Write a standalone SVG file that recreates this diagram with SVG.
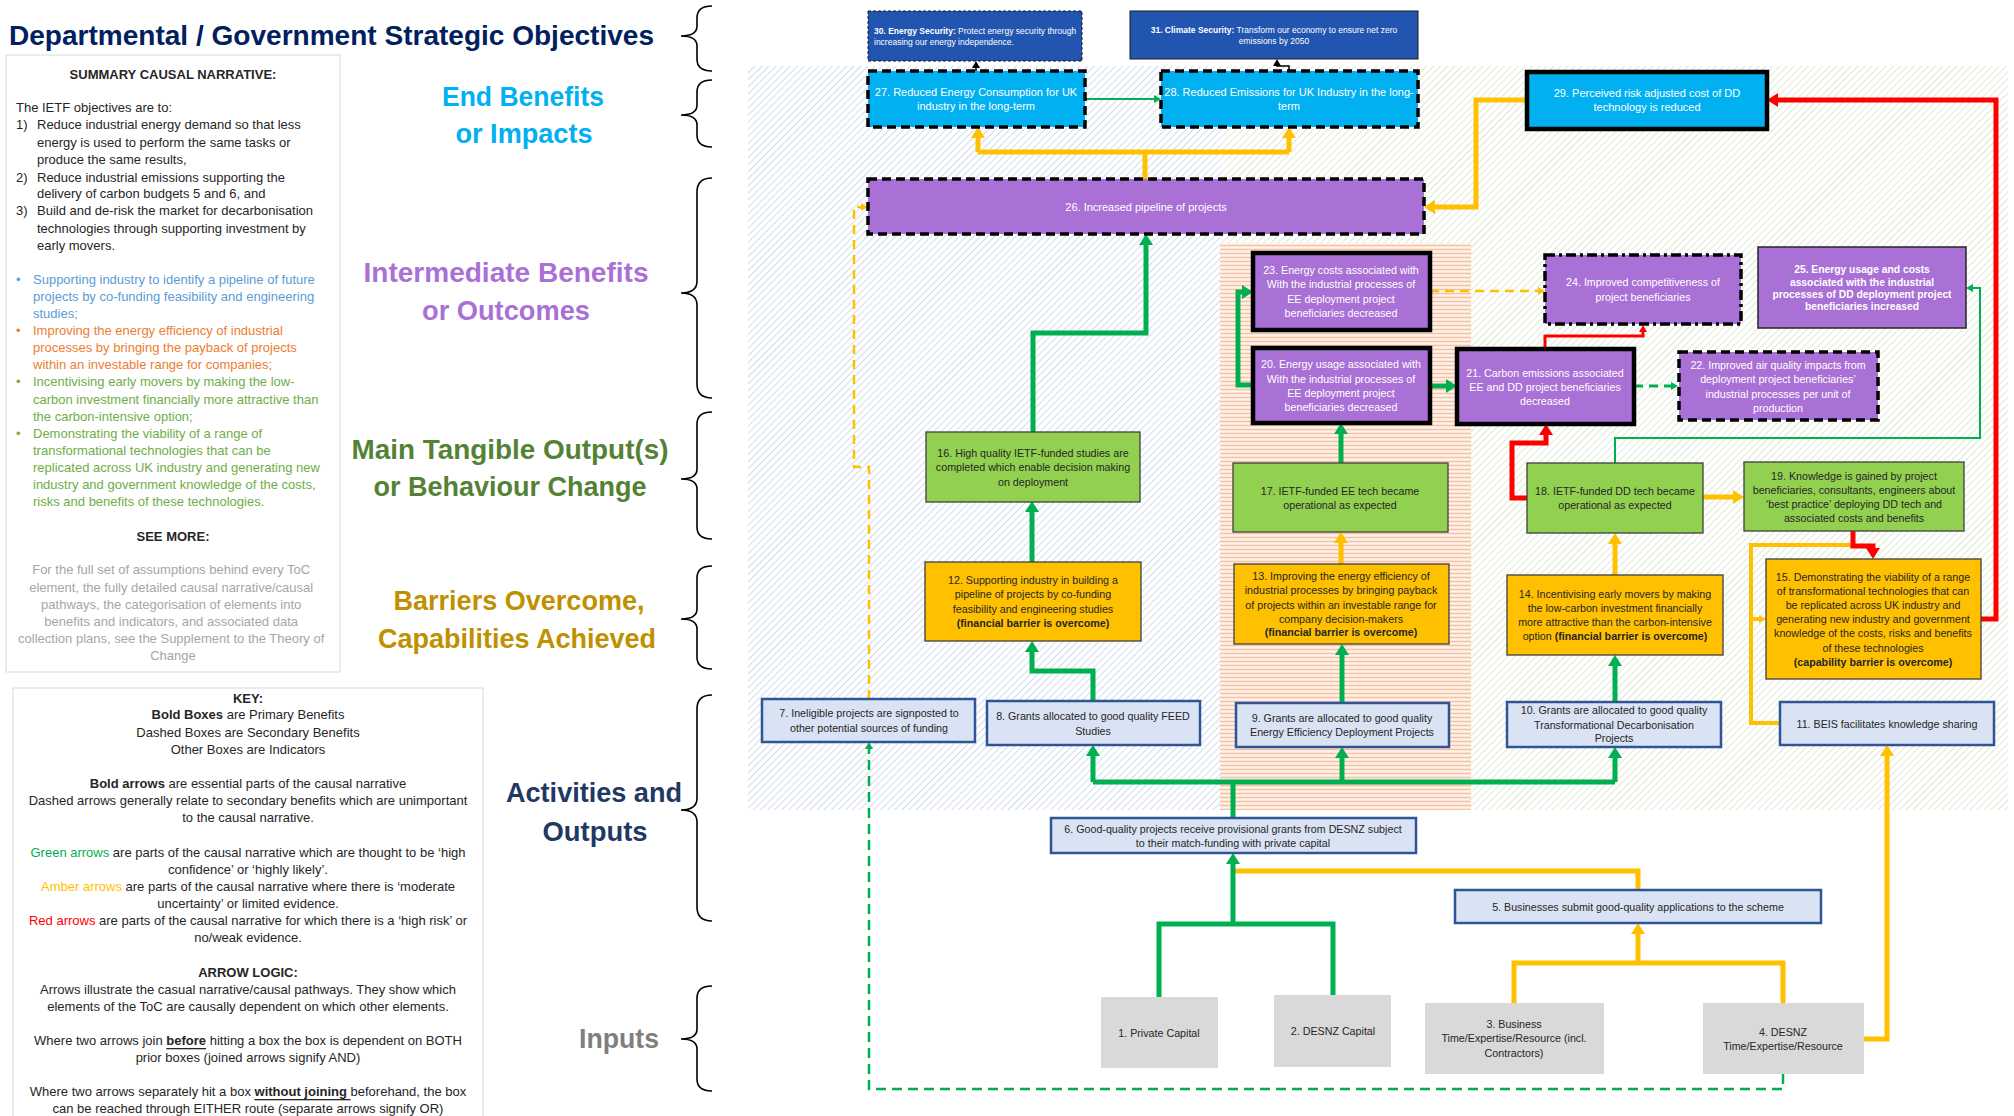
<svg xmlns="http://www.w3.org/2000/svg" width="2014" height="1116" viewBox="0 0 2014 1116">
<style>
text{font-family:"Liberation Sans",Arial,sans-serif;}
.c{text-anchor:middle;dominant-baseline:central;}
.l{dominant-baseline:central;}
.nw{fill:#fff;font-size:10.7px;}
.nd{fill:#262626;font-size:10.7px;}
.b{font-weight:bold;}
.hd{font-weight:bold;font-size:27px;text-anchor:middle;dominant-baseline:central;}
.nar{font-size:13px;fill:#262626;dominant-baseline:central;}
.key{font-size:13px;fill:#262626;text-anchor:middle;dominant-baseline:central;}
.brace{fill:none;stroke:#000;stroke-width:1.6;}
.eb{fill:#00B0F0;}
.pu{fill:#A970D6;}
.gr{fill:#92D050;stroke:#3F3F3F;stroke-width:1.3;}
.am{fill:#FFC000;stroke:#3F3F3F;stroke-width:1.3;}
.lb{fill:#DAE3F3;stroke:#2F5597;stroke-width:2.5;}
.in{fill:#D9D9D9;}
.bold{stroke:#000;stroke-width:4.5;}
.dash{stroke:#000;stroke-width:3.5;stroke-dasharray:9 5;}
.cG{fill:none;stroke:#00B050;stroke-width:5;}
.cA{fill:none;stroke:#FFC000;stroke-width:5;}
.cR{fill:none;stroke:#FF0000;stroke-width:5;}
</style>
<defs>
<pattern id="pb" width="5" height="5" patternUnits="userSpaceOnUse" patternTransform="rotate(45)"><rect width="5" height="5" fill="#fff"/><line x1="0" y1="0" x2="0" y2="5" stroke="#CFDCEE" stroke-width="2"/></pattern>
<pattern id="pg" width="5" height="5" patternUnits="userSpaceOnUse" patternTransform="rotate(45)"><rect width="5" height="5" fill="#fff"/><line x1="0" y1="0" x2="0" y2="5" stroke="#DDE9D3" stroke-width="2"/></pattern>
<pattern id="po" width="4" height="4" patternUnits="userSpaceOnUse"><rect width="4" height="4" fill="#FFF3EC"/><line x1="0" y1="1.5" x2="4" y2="1.5" stroke="#F6C2A4" stroke-width="1.5"/></pattern>
<marker id="mgL" markerUnits="userSpaceOnUse" markerWidth="12" markerHeight="14" refX="1" refY="7" orient="auto"><path d="M0,0 L11,7 L0,14 z" fill="#00B050"/></marker>
<marker id="maL" markerUnits="userSpaceOnUse" markerWidth="12" markerHeight="14" refX="1" refY="7" orient="auto"><path d="M0,0 L11,7 L0,14 z" fill="#FFC000"/></marker>
<marker id="mrL" markerUnits="userSpaceOnUse" markerWidth="12" markerHeight="14" refX="1" refY="7" orient="auto"><path d="M0,0 L11,7 L0,14 z" fill="#FF0000"/></marker>
<marker id="mgS" markerUnits="userSpaceOnUse" markerWidth="8" markerHeight="8" refX="1" refY="4" orient="auto"><path d="M0,0 L7,4 L0,8 z" fill="#00B050"/></marker>
<marker id="maS" markerUnits="userSpaceOnUse" markerWidth="8" markerHeight="8" refX="1" refY="4" orient="auto"><path d="M0,0 L7,4 L0,8 z" fill="#FFC000"/></marker>
<marker id="mrS" markerUnits="userSpaceOnUse" markerWidth="8" markerHeight="8" refX="1" refY="4" orient="auto"><path d="M0,0 L7,4 L0,8 z" fill="#FF0000"/></marker>
<marker id="mkS" markerUnits="userSpaceOnUse" markerWidth="8" markerHeight="8" refX="1" refY="4" orient="auto"><path d="M0,0 L7,4 L0,8 z" fill="#000"/></marker>
</defs>
<rect width="2014" height="1116" fill="#fff"/>

<g id="backgrounds">
<rect x="748" y="66" width="472" height="744" fill="url(#pb)"/>
<rect x="1220" y="66" width="788" height="744" fill="url(#pg)"/>
<rect x="1220" y="243" width="251" height="567" fill="url(#po)"/>
</g>

<g id="title">
<text x="9" y="35" font-size="28" font-weight="bold" fill="#002060" class="l" textLength="645" lengthAdjust="spacingAndGlyphs">Departmental / Government Strategic Objectives</text>
</g>

<g id="narrative">
<rect x="6" y="55" width="334" height="617" fill="#fff" stroke="#D9D9D9" stroke-width="1"/>
<text x="173" y="74" class="key b" font-size="12.5">SUMMARY CAUSAL NARRATIVE:</text>
<text class="nar">
<tspan x="16" y="107">The IETF objectives are to:</tspan>
<tspan x="16" y="124">1)</tspan><tspan x="37" y="124">Reduce industrial energy demand so that less</tspan>
<tspan x="37" y="142">energy is used to perform the same tasks or</tspan>
<tspan x="37" y="159">produce the same results,</tspan>
<tspan x="16" y="177">2)</tspan><tspan x="37" y="177">Reduce industrial emissions supporting the</tspan>
<tspan x="37" y="193">delivery of carbon budgets 5 and 6, and</tspan>
<tspan x="16" y="210">3)</tspan><tspan x="37" y="210">Build and de-risk the market for decarbonisation</tspan>
<tspan x="37" y="228">technologies through supporting investment by</tspan>
<tspan x="37" y="245">early movers.</tspan>
</text>
<text class="nar" style="fill:#5B9BD5">
<tspan x="16" y="279">•</tspan><tspan x="33" y="279">Supporting industry to identify a pipeline of future</tspan>
<tspan x="33" y="296">projects by co-funding feasibility and engineering</tspan>
<tspan x="33" y="313">studies;</tspan>
</text>
<text class="nar" style="fill:#ED7D31">
<tspan x="16" y="330">•</tspan><tspan x="33" y="330">Improving the energy efficiency of industrial</tspan>
<tspan x="33" y="347">processes by bringing the payback of projects</tspan>
<tspan x="33" y="364">within an investable range for companies;</tspan>
</text>
<text class="nar" style="fill:#70AD47">
<tspan x="16" y="381">•</tspan><tspan x="33" y="381">Incentivising early movers by making the low-</tspan>
<tspan x="33" y="399">carbon investment financially more attractive than</tspan>
<tspan x="33" y="416">the carbon-intensive option;</tspan>
<tspan x="16" y="433">•</tspan><tspan x="33" y="433">Demonstrating the viability of a range of</tspan>
<tspan x="33" y="450">transformational technologies that can be</tspan>
<tspan x="33" y="467">replicated across UK industry and generating new</tspan>
<tspan x="33" y="484">industry and government knowledge of the costs,</tspan>
<tspan x="33" y="501">risks and benefits of these technologies.</tspan>
</text>
<text x="173" y="536" class="key b">SEE MORE:</text>
<text class="key" style="fill:#A6A6A6">
<tspan x="173" y="569">For the full set of assumptions behind every ToC</tspan>
<tspan x="173" y="587">element, the fully detailed causal narrative/causal</tspan>
<tspan x="173" y="604">pathways, the categorisation of elements into</tspan>
<tspan x="173" y="621">benefits and indicators, and associated data</tspan>
<tspan x="173" y="638">collection plans, see the Supplement to the Theory of</tspan>
<tspan x="173" y="655">Change</tspan>
</text>
</g>

<g id="key">
<rect x="13" y="688" width="470" height="440" fill="#fff" stroke="#D9D9D9" stroke-width="1"/>
<text x="248" y="698" class="key b">KEY:</text>
<text x="248" y="714" class="key"><tspan class="b">Bold Boxes</tspan> are Primary Benefits</text>
<text x="248" y="732" class="key">Dashed Boxes are Secondary Benefits</text>
<text x="248" y="749" class="key">Other Boxes are Indicators</text>
<text x="248" y="783" class="key"><tspan class="b">Bold arrows</tspan> are essential parts of the causal narrative</text>
<text x="248" y="800" class="key">Dashed arrows generally relate to secondary benefits which are unimportant</text>
<text x="248" y="817" class="key">to the causal narrative.</text>
<text x="248" y="852" class="key"><tspan style="fill:#00B050">Green arrows</tspan> are parts of the causal narrative which are thought to be ‘high</text>
<text x="248" y="869" class="key">confidence’ or ‘highly likely’.</text>
<text x="248" y="886" class="key"><tspan style="fill:#FFC000">Amber arrows</tspan> are parts of the causal narrative where there is ‘moderate</text>
<text x="248" y="903" class="key">uncertainty’ or limited evidence.</text>
<text x="248" y="920" class="key"><tspan style="fill:#FF0000">Red arrows</tspan> are parts of the causal narrative for which there is a ‘high risk’ or</text>
<text x="248" y="937" class="key">no/weak evidence.</text>
<text x="248" y="972" class="key b">ARROW LOGIC:</text>
<text x="248" y="989" class="key">Arrows illustrate the casual narrative/causal pathways. They show which</text>
<text x="248" y="1006" class="key">elements of the ToC are causally dependent on which other elements.</text>
<text x="248" y="1040" class="key">Where two arrows join <tspan class="b" style="text-decoration:underline">before</tspan> hitting a box the box is dependent on BOTH</text>
<text x="248" y="1057" class="key">prior boxes (joined arrows signify AND)</text>
<text x="248" y="1091" class="key">Where two arrows separately hit a box <tspan class="b" style="text-decoration:underline">without joining </tspan>beforehand, the box</text>
<text x="248" y="1108" class="key">can be reached through EITHER route (separate arrows signify OR)</text>
</g>

<g id="level-labels">
<text x="523" y="97" class="hd" fill="#00B0F0" textLength="162" lengthAdjust="spacingAndGlyphs">End Benefits</text>
<text x="524" y="134" class="hd" fill="#00B0F0" textLength="137" lengthAdjust="spacingAndGlyphs">or Impacts</text>
<text x="506" y="273" class="hd" fill="#A970D6" textLength="285" lengthAdjust="spacingAndGlyphs">Intermediate Benefits</text>
<text x="506" y="311" class="hd" fill="#A970D6" textLength="168" lengthAdjust="spacingAndGlyphs">or Outcomes</text>
<text x="510" y="450" class="hd" fill="#548235" textLength="317" lengthAdjust="spacingAndGlyphs">Main Tangible Output(s)</text>
<text x="510" y="487" class="hd" fill="#548235" textLength="273" lengthAdjust="spacingAndGlyphs">or Behaviour Change</text>
<text x="519" y="601" class="hd" fill="#BF9000" textLength="251" lengthAdjust="spacingAndGlyphs">Barriers Overcome,</text>
<text x="517" y="639" class="hd" fill="#BF9000" textLength="278" lengthAdjust="spacingAndGlyphs">Capabilities Achieved</text>
<text x="594" y="793" class="hd" fill="#1F3864" textLength="176" lengthAdjust="spacingAndGlyphs">Activities and</text>
<text x="595" y="832" class="hd" fill="#1F3864" textLength="105" lengthAdjust="spacingAndGlyphs">Outputs</text>
<text x="619" y="1039" class="hd" fill="#7F7F7F" textLength="80" lengthAdjust="spacingAndGlyphs">Inputs</text>
</g>

<g id="braces">
<path class="brace" d="M712,6 Q697,6 697,18 L697,26 Q697,36 681,36 Q697,36 697,46 L697,59 Q697,71 712,71"/>
<path class="brace" d="M712,80 Q697,80 697,92 L697,105 Q697,115 681,115 Q697,115 697,125 L697,135 Q697,147 712,147"/>
<path class="brace" d="M712,178 Q697,178 697,192 L697,281 Q697,293 681,293 Q697,293 697,305 L697,384 Q697,398 712,398"/>
<path class="brace" d="M712,412 Q697,412 697,424 L697,469 Q697,479 681,479 Q697,479 697,489 L697,527 Q697,539 712,539"/>
<path class="brace" d="M712,566 Q697,566 697,578 L697,609 Q697,619 681,619 Q697,619 697,629 L697,657 Q697,669 712,669"/>
<path class="brace" d="M712,695 Q697,695 697,709 L697,798 Q697,810 681,810 Q697,810 697,822 L697,907 Q697,921 712,921"/>
<path class="brace" d="M712,986 Q697,986 697,998 L697,1029 Q697,1039 681,1039 Q697,1039 697,1049 L697,1079 Q697,1091 712,1091"/>
</g>

<g id="connectors">
<path d="M1085,99 H1155" fill="none" stroke="#00B050" stroke-width="2" marker-end="url(#mgS)"/>
<path d="M976,71 V67" fill="none" stroke="#000" stroke-width="1.5" marker-end="url(#mkS)"/>
<path d="M1289,71 V66 H1277 V65" fill="none" stroke="#000" stroke-width="1.5" marker-end="url(#mkS)"/>
<path class="cA" d="M1145,179 V152 M978,152 H1289"/>
<path class="cA" d="M978,152 V137" marker-end="url(#maL)"/>
<path class="cA" d="M1289,152 V137" marker-end="url(#maL)"/>
<path class="cA" d="M1527,100 H1476 V207 H1434" marker-end="url(#maL)"/>
<path class="cR" d="M1981,619 H1996 V100 H1777" marker-end="url(#mrL)"/>
<path d="M869,699 V467 H854 V207 H862" fill="none" stroke="#FFC000" stroke-width="2.5" stroke-dasharray="9 6" marker-end="url(#maS)"/>
<path class="cG" d="M1033,432 V333 H1146 V244" marker-end="url(#mgL)"/>
<path class="cG" d="M1032,562 V511" marker-end="url(#mgL)"/>
<path class="cG" d="M1093,701 V671 H1032 V651" marker-end="url(#mgL)"/>
<path class="cA" d="M1638,890 V871 H1233"/>
<path class="cG" d="M1233,818 V782 M1093,782 H1615"/>
<path class="cG" d="M1093,782 V755" marker-end="url(#mgL)"/>
<path class="cG" d="M1342,782 V757" marker-end="url(#mgL)"/>
<path class="cG" d="M1615,782 V757" marker-end="url(#mgL)"/>
<path class="cG" d="M1342,703 V654" marker-end="url(#mgL)"/>
<path class="cA" d="M1341,564 V542" marker-end="url(#maL)"/>
<path class="cG" d="M1341,463 V433" marker-end="url(#mgL)"/>
<path class="cG" d="M1253,385 H1238 V292 H1243" marker-end="url(#mgL)"/>
<path class="cG" d="M1430,386 H1447" marker-end="url(#mgL)"/>
<path d="M1430,291 H1539" fill="none" stroke="#FFC000" stroke-width="2.5" stroke-dasharray="9 6" marker-end="url(#maS)"/>
<path d="M1634,386 H1672" fill="none" stroke="#00B050" stroke-width="3" stroke-dasharray="9 6" marker-end="url(#mgS)"/>
<path d="M1545,349 V336 H1643 V331" fill="none" stroke="#FF0000" stroke-width="3" marker-end="url(#mrS)"/>
<path class="cR" d="M1527,498 H1512 V443 H1546 V434" marker-end="url(#mrL)"/>
<path d="M1615,463 V438 H1980 V288 H1972" fill="none" stroke="#00B050" stroke-width="2" marker-end="url(#mgS)"/>
<path class="cA" d="M1703,497 H1734" marker-end="url(#maL)"/>
<path class="cA" d="M1615,575 V543" marker-end="url(#maL)"/>
<path class="cG" d="M1615,702 V665" marker-end="url(#mgL)"/>
<path class="cA" d="M1780,723 H1751 V545 H1853" style="stroke-width:4"/>
<path d="M1751,619 H1760" fill="none" stroke="#FFC000" stroke-width="4" marker-end="url(#maS)"/>
<path class="cR" d="M1853,531 V546 H1873 V549" marker-end="url(#mrL)"/>
<path class="cA" d="M1864,1039 H1887 V755" marker-end="url(#maL)"/>
<path class="cA" d="M1514,1003 V963 H1783 V1003"/>
<path class="cA" d="M1638,963 V933" marker-end="url(#maL)"/>
<path class="cG" d="M1159,997 V924 H1333 V995"/>
<path class="cG" d="M1233,924 V863" marker-end="url(#mgL)"/>
<path d="M1783,1074 V1089 H869 V748" fill="none" stroke="#00B050" stroke-width="2.5" stroke-dasharray="10 6" marker-end="url(#mgS)"/>
</g>

<g id="n30"><rect x="868" y="11" width="214" height="50" fill="#2155B0" stroke="#1a1a1a" stroke-width="1" stroke-dasharray="3 2"/>
<text class="l" fill="#fff" font-size="8.5"><tspan x="874" y="31"><tspan class="b">30. Energy Security:</tspan> Protect energy security through</tspan><tspan x="874" y="42">increasing our energy independence.</tspan></text></g>
<g id="n31"><rect x="1130" y="11" width="288" height="48" fill="#2155B0" stroke="#1a1a1a" stroke-width="1"/>
<text class="c" fill="#fff" font-size="8.5"><tspan x="1274" y="30"><tspan class="b">31. Climate Security:</tspan> Transform our economy to ensure net zero</tspan><tspan x="1274" y="41">emissions by 2050</tspan></text></g>
<g id="n27"><rect x="868" y="71" width="217" height="56" class="eb dash"/>
<text class="c nw" style="font-size:11px"><tspan x="976" y="92">27. Reduced Energy Consumption for UK</tspan><tspan x="976" y="106">industry  in the long-term</tspan></text></g>
<g id="n28"><rect x="1161" y="71" width="257" height="56" class="eb dash"/>
<text class="c nw" style="font-size:11px"><tspan x="1289" y="92">28. Reduced Emissions for UK Industry in the long-</tspan><tspan x="1289" y="106">term</tspan></text></g>
<g id="n29"><rect x="1527" y="72" width="240" height="57" class="eb bold"/>
<text class="c nw" style="font-size:11px"><tspan x="1647" y="93">29. Perceived risk adjusted cost of DD</tspan><tspan x="1647" y="107">technology is reduced</tspan></text></g>
<g id="n26"><rect x="868" y="179" width="556" height="55" class="pu dash"/>
<text class="c nw" style="font-size:11px" x="1146" y="207">26. Increased pipeline of projects</text></g>
<g id="n23"><rect x="1253" y="253" width="177" height="77" class="pu bold"/>
<text class="c nw"><tspan x="1341" y="270">23. Energy costs associated with</tspan><tspan x="1341" y="284">With the industrial processes of</tspan><tspan x="1341" y="299">EE deployment project</tspan><tspan x="1341" y="313">beneficiaries decreased</tspan></text></g>
<g id="n24"><rect x="1545" y="255" width="196" height="69" class="pu" stroke="#000" stroke-width="3.5" stroke-dasharray="10 4 3 4"/>
<text class="c nw"><tspan x="1643" y="282">24. Improved competitiveness of</tspan><tspan x="1643" y="297">project beneficiaries</tspan></text></g>
<g id="n25"><rect x="1758" y="247" width="208" height="81" class="pu" stroke="#262626" stroke-width="1.5"/>
<text class="c nw b" style="font-size:10.3px"><tspan x="1862" y="269">25. Energy usage and costs</tspan><tspan x="1862" y="282">associated with the industrial</tspan><tspan x="1862" y="294">processes of DD deployment project</tspan><tspan x="1862" y="306">beneficiaries increased</tspan></text></g>
<g id="n20"><rect x="1253" y="348" width="177" height="75" class="pu bold"/>
<text class="c nw"><tspan x="1341" y="364">20. Energy usage associated with</tspan><tspan x="1341" y="379">With the industrial processes of</tspan><tspan x="1341" y="393">EE deployment project</tspan><tspan x="1341" y="407">beneficiaries decreased</tspan></text></g>
<g id="n21"><rect x="1457" y="349" width="177" height="75" class="pu bold"/>
<text class="c nw"><tspan x="1545" y="373">21. Carbon emissions associated</tspan><tspan x="1545" y="387">EE and DD project beneficiaries</tspan><tspan x="1545" y="401">decreased</tspan></text></g>
<g id="n22"><rect x="1679" y="352" width="199" height="68" class="pu dash"/>
<text class="c nw"><tspan x="1778" y="365">22. Improved air quality impacts from</tspan><tspan x="1778" y="379">deployment project beneficiaries’</tspan><tspan x="1778" y="394">industrial  processes per unit of</tspan><tspan x="1778" y="408">production</tspan></text></g>
<g id="n16"><rect x="926" y="432" width="214" height="70" class="gr"/>
<text class="c nd"><tspan x="1033" y="453">16. High quality IETF-funded studies are</tspan><tspan x="1033" y="467">completed which enable decision making</tspan><tspan x="1033" y="482">on deployment</tspan></text></g>
<g id="n17"><rect x="1233" y="463" width="215" height="69" class="gr"/>
<text class="c nd"><tspan x="1340" y="491">17. IETF-funded EE tech became</tspan><tspan x="1340" y="505">operational as expected</tspan></text></g>
<g id="n18"><rect x="1527" y="463" width="176" height="70" class="gr"/>
<text class="c nd"><tspan x="1615" y="491">18. IETF-funded DD tech became</tspan><tspan x="1615" y="505">operational as expected</tspan></text></g>
<g id="n19"><rect x="1744" y="462" width="220" height="69" class="gr"/>
<text class="c nd"><tspan x="1854" y="476">19. Knowledge is gained by project</tspan><tspan x="1854" y="490">beneficiaries, consultants, engineers about</tspan><tspan x="1854" y="504">‘best practice’ deploying DD tech and</tspan><tspan x="1854" y="518">associated costs and benefits</tspan></text></g>
<g id="n12"><rect x="925" y="562" width="216" height="79" class="am"/>
<text class="c nd"><tspan x="1033" y="580">12. Supporting industry in building a</tspan><tspan x="1033" y="594">pipeline of projects by co-funding</tspan><tspan x="1033" y="609">feasibility and engineering studies</tspan><tspan x="1033" y="623" class="b">(financial barrier is overcome)</tspan></text></g>
<g id="n13"><rect x="1234" y="564" width="215" height="80" class="am"/>
<text class="c nd"><tspan x="1341" y="576">13. Improving the energy efficiency of</tspan><tspan x="1341" y="590">industrial processes by bringing payback</tspan><tspan x="1341" y="605">of projects within an investable range for</tspan><tspan x="1341" y="619">company decision-makers</tspan><tspan x="1341" y="632" class="b">(financial barrier is overcome)</tspan></text></g>
<g id="n14"><rect x="1507" y="575" width="216" height="80" class="am"/>
<text class="c nd"><tspan x="1615" y="594">14. Incentivising early movers by making</tspan><tspan x="1615" y="608">the low-carbon investment financially</tspan><tspan x="1615" y="622">more attractive than the carbon-intensive</tspan><tspan x="1615" y="636">option <tspan class="b">(financial barrier is overcome)</tspan></tspan></text></g>
<g id="n15"><rect x="1766" y="559" width="215" height="120" class="am"/>
<text class="c nd"><tspan x="1873" y="577">15. Demonstrating the viability of a range</tspan><tspan x="1873" y="591">of transformational technologies that can</tspan><tspan x="1873" y="605">be replicated across UK industry and</tspan><tspan x="1873" y="619">generating new industry and government</tspan><tspan x="1873" y="633">knowledge of the costs, risks and benefits</tspan><tspan x="1873" y="648">of these technologies</tspan><tspan x="1873" y="662" class="b">(capability barrier is overcome)</tspan></text></g>
<g id="n7"><rect x="762" y="699" width="213" height="43" class="lb"/>
<text class="c nd"><tspan x="869" y="713">7. Ineligible projects are signposted to</tspan><tspan x="869" y="728">other potential sources of funding</tspan></text></g>
<g id="n8"><rect x="987" y="701" width="213" height="44" class="lb"/>
<text class="c nd"><tspan x="1093" y="716">8. Grants allocated to good quality FEED</tspan><tspan x="1093" y="731">Studies</tspan></text></g>
<g id="n9"><rect x="1236" y="703" width="213" height="44" class="lb"/>
<text class="c nd"><tspan x="1342" y="718">9. Grants are allocated to good quality</tspan><tspan x="1342" y="732">Energy Efficiency Deployment Projects</tspan></text></g>
<g id="n10"><rect x="1507" y="702" width="214" height="45" class="lb"/>
<text class="c nd"><tspan x="1614" y="710">10. Grants are allocated to good quality</tspan><tspan x="1614" y="725">Transformational Decarbonisation</tspan><tspan x="1614" y="738">Projects</tspan></text></g>
<g id="n11"><rect x="1780" y="702" width="214" height="43" class="lb"/>
<text class="c nd" x="1887" y="724">11. BEIS facilitates knowledge sharing</text></g>
<g id="n6"><rect x="1051" y="818" width="365" height="35" class="lb"/>
<text class="c nd"><tspan x="1233" y="829">6. Good-quality projects receive provisional grants from DESNZ subject</tspan><tspan x="1233" y="843">to their match-funding with private capital</tspan></text></g>
<g id="n5"><rect x="1455" y="890" width="366" height="33" class="lb"/>
<text class="c nd" x="1638" y="907">5. Businesses submit good-quality applications to the scheme</text></g>
<g id="n1"><rect x="1101" y="997" width="117" height="71" class="in"/>
<text class="c nd" x="1159" y="1033">1. Private Capital</text></g>
<g id="n2"><rect x="1274" y="995" width="117" height="72" class="in"/>
<text class="c nd" x="1333" y="1031">2. DESNZ Capital</text></g>
<g id="n3"><rect x="1425" y="1003" width="179" height="71" class="in"/>
<text class="c nd"><tspan x="1514" y="1024">3. Business</tspan><tspan x="1514" y="1038">Time/Expertise/Resource (incl.</tspan><tspan x="1514" y="1053">Contractors)</tspan></text></g>
<g id="n4"><rect x="1703" y="1003" width="161" height="71" class="in"/>
<text class="c nd"><tspan x="1783" y="1032">4. DESNZ</tspan><tspan x="1783" y="1046">Time/Expertise/Resource</tspan></text></g>
</svg>
